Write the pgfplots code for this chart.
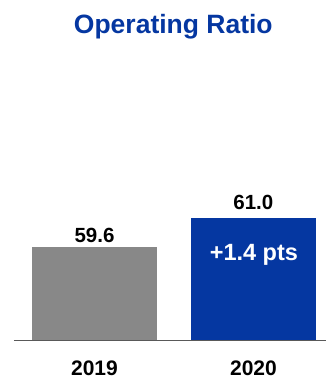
\documentclass[border=0pt]{standalone}
\usepackage{fontspec}
\setmainfont{Liberation Sans}
\usepackage{pgfplots}
\pgfplotsset{compat=1.18}
\definecolor{upblue}{HTML}{0537A1}
\definecolor{bargray}{HTML}{888888}
\begin{document}
\begin{tikzpicture}
\useasboundingbox (-14pt,-41pt) rectangle (312pt,340pt);
\begin{axis}[
 at={(0,0)}, anchor=south west,
 scale only axis, width=312pt, height=340pt,
 xmin=14, xmax=326, ymin=55.1, ymax=71.549,
 axis x line*=bottom, axis y line=none,
 x axis line style={draw=black!65, line width=0.8pt, -},
 ytick=\empty,
 xtick={94.5,253.5}, xticklabels={2019,2020},
 major tick length=0pt,
 xticklabel style={anchor=base, yshift=-35pt, font=\fontsize{21}{25}\selectfont\bfseries},
 ybar, bar width=125,
 title={Operating Ratio},
 every axis title/.style={at={(rel axis cs:0.5,1)}, anchor=base, yshift=-33.3pt, xshift=3.3pt, font=\fontsize{26.5}{30}\selectfont\bfseries, text=upblue},
 /pgf/number format/assume math mode=true,
 nodes near coords={\pgfmathprintnumber[fixed,precision=1,fixed zerofill]{\pgfplotspointmeta}},
 every node near coord/.append style={font=\fontsize{20.5}{24}\selectfont\bfseries, anchor=base, text=black},
]
\addplot[fill=bargray, draw=none, bar shift=0pt, every node near coord/.append style={yshift=4.6pt}] coordinates {(94.5,59.6)};
\addplot[fill=upblue, draw=none, bar shift=0pt, every node near coord/.append style={yshift=8.3pt}] coordinates {(253.35,61.0)};
\node[anchor=base, text=white, font=\fontsize{23.5}{27}\selectfont\bfseries] at (axis cs:253.9,58.97) {+1.4 pts};
\end{axis}
\end{tikzpicture}
\end{document}
